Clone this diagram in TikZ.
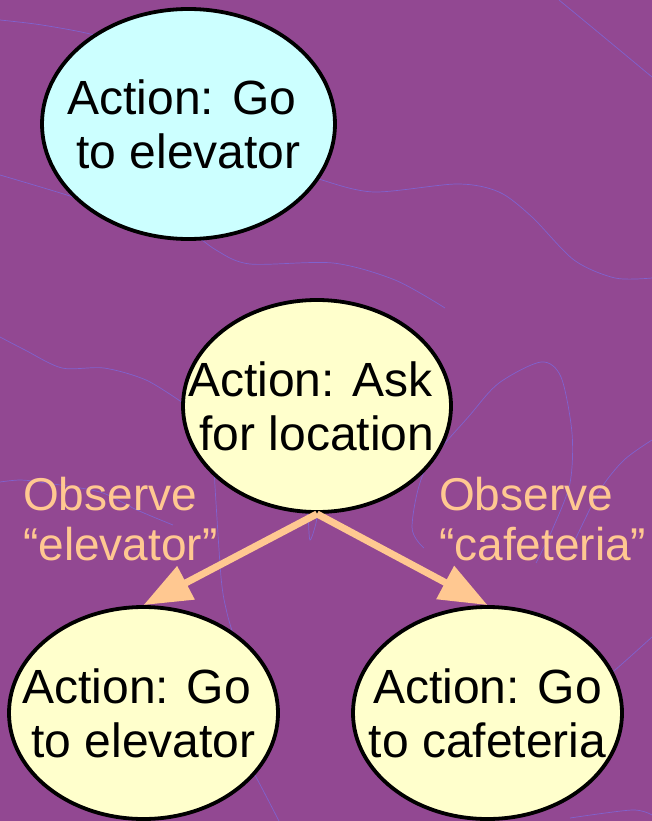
\documentclass[tikz,border=0pt]{standalone}
\usepackage{fontspec}
\setmainfont{Liberation Sans}
\usetikzlibrary{arrows.meta,shapes.geometric}
\definecolor{slidebg}{RGB}{146,72,146}
\definecolor{veincol}{RGB}{128,98,206}
\definecolor{paleblue}{HTML}{CCFFFF}
\definecolor{paleyellow}{HTML}{FFFFCC}
\definecolor{peach}{HTML}{FFC891}
\begin{document}
\begin{tikzpicture}[x=1pt,y=-1pt,
  oval/.style={ellipse, draw=black, line width=3.8pt, inner sep=0pt},
  ovaltext/.style={font=\fontsize{48}{53.5}\selectfont, align=center, anchor=base, inner sep=0pt},
  obs/.style={font=\fontsize{46}{50}\selectfont, text=peach, align=left, anchor=base west, inner sep=0pt},
  branch/.style={draw=peach, line width=7pt, -{Triangle[length=48pt,width=36pt]}},
  vein/.style={draw=veincol, line width=0.7pt}]
  % slide background
  \fill[slidebg] (0,0) rectangle (652,821);
  \useasboundingbox (0,0) rectangle (652,821);
  % faint background texture
  \draw[vein] plot[smooth] coordinates {(0,20) (42,25) (94,35) (130,50)};
  \draw[vein] plot[smooth] coordinates {(0,175) (73,197) (110,212)};
  \draw[vein] plot[smooth] coordinates {(300,170) (322,180) (374,192) (457,184) (499,192) (532,217) (574,260) (615,278) (652,278)};
  \draw[vein] plot[smooth] coordinates {(190,230) (216,250) (250,264) (333,263) (395,280) (445,308)};
  \draw[vein] plot[smooth] coordinates {(559,0) (599,33) (652,77)};
  \draw[vein] plot[smooth] coordinates {(0,337) (25,350) (62,368) (104,368) (146,380) (183,403)};
  \draw[vein] plot[smooth] coordinates {(424,548) (412,527) (425,470) (470,415) (499,383) (541,362) (561,377) (572,433) (570,483) (553,528) (536,563)};
  \draw[vein] plot[smooth] coordinates {(652,440) (624,460) (600,490) (575,540)};
  \draw[vein] plot[smooth] coordinates {(0,482) (21,480) (46,483) (100,492) (137,510) (173,525)};
  \draw[vein] plot[smooth] coordinates {(214,470) (221,577) (227,613) (235,640)};
  \draw[vein] plot[smooth] coordinates {(305,505) (308,517) (310,540) (316,523) (318,505)};
  \draw[vein] plot[smooth] coordinates {(240,750) (256,777) (279,821)};
  \draw[vein] plot[smooth] coordinates {(600,680) (615,670) (652,637)};
  \draw[vein] plot[smooth] coordinates {(570,818) (632,810) (652,815)};
  % decision nodes
  \node[oval, fill=paleblue, minimum width=293pt, minimum height=230pt] (goA) at (188.5,124) {};
  \node[oval, fill=paleyellow, minimum width=268pt, minimum height=212pt] (ask) at (317,406) {};
  \node[oval, fill=paleyellow, minimum width=269pt, minimum height=212pt] (goB) at (143.5,713) {};
  \node[oval, fill=paleyellow, minimum width=269pt, minimum height=212pt] (goC) at (487.5,713) {};
  \node[ovaltext] (goAtext) at (188.5,168) {Action: Go\kern.28em\\to elevator};
  \node[ovaltext] (asktext) at (317,450) {Action: Ask\kern.28em\\for location};
  \node[ovaltext] (goBtext) at (143.5,757) {Action: Go\kern.28em\\to elevator};
  \node[ovaltext] (goCtext) at (487.5,757) {Action: Go\\to cafeteria};
  % observation branches
  \draw[branch] (ask.south) -- (goB.north);
  \draw[branch] (ask.south) -- (goC.north);
  \node[obs] (obsL) at (23,560) {Observe\\“elevator”};
  \node[obs] (obsR) at (439,560) {Observe\\“cafeteria”};
\end{tikzpicture}
\end{document}
